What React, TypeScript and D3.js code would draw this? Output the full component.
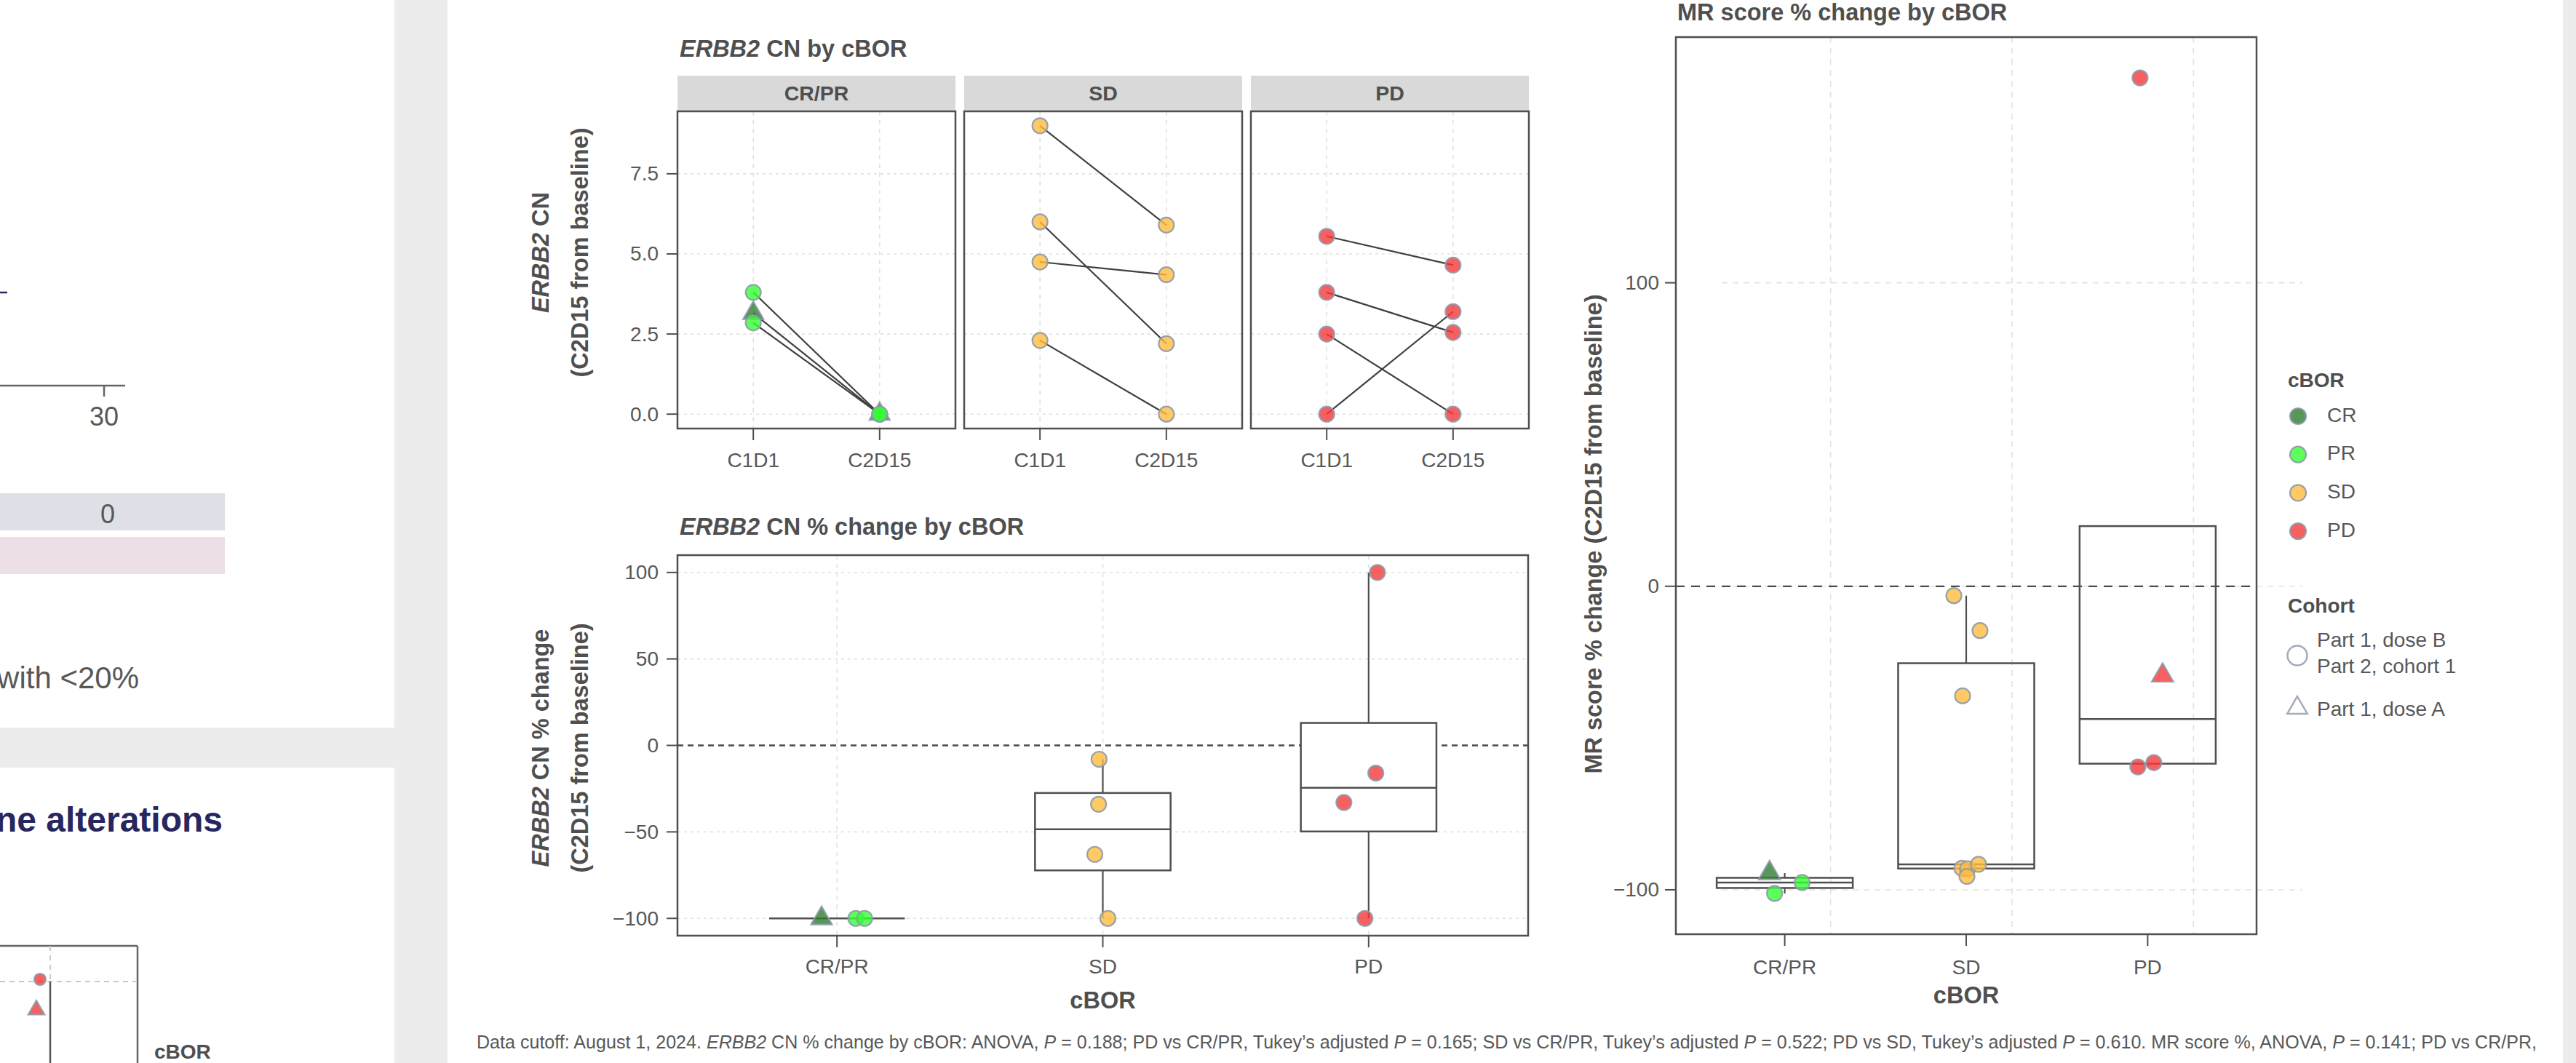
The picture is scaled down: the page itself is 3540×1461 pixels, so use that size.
import React from 'react';
import * as d3 from 'd3';

const W = 3540;
const H = 1461;
const FONT = '"Liberation Sans", Arial, Helvetica, sans-serif';
const TXT = '#585858';
const INK = '#4f4f4f';
const GRID = '#e2e2e2';
const PT_STROKE = '#8e9aab';

// ---------- categories ----------
const BOR_GROUPS = ['CR/PR', 'SD', 'PD'];
const TIMEPOINTS = ['C1D1', 'C2D15'];
const BOR_LEVELS = ['CR', 'PR', 'SD', 'PD'];
const BOR_COLORS = ['#2e7d2e', '#33ff33', '#ffbb3d', '#f43838'];
const COHORT_LABELS = [['Part 1, dose B', 'Part 2, cohort 1'], ['Part 1, dose A']];

// ---------- ERBB2 CN (paired C1D1 -> C2D15) ----------
const CN_GROUP = ['CR/PR', 'CR/PR', 'CR/PR', 'SD', 'SD', 'SD', 'SD', 'PD', 'PD', 'PD', 'PD'];
const CN_BOR = ['CR', 'PR', 'PR', 'SD', 'SD', 'SD', 'SD', 'PD', 'PD', 'PD', 'PD'];
const CN_SHAPE = ['triangle', 'circle', 'circle', 'circle', 'circle', 'circle', 'circle', 'circle', 'circle', 'circle', 'circle'];
const CN_C1D1 = [3.15, 3.8, 2.85, 9.0, 6.0, 4.75, 2.3, 5.55, 3.8, 2.5, 0];
const CN_C2D15 = [0, 0, 0, 5.9, 2.2, 4.35, 0, 4.65, 2.55, 0, 3.2];
const CN_TICKS = [0, 2.5, 5, 7.5];

// ---------- ERBB2 CN % change ----------
const PCT_GROUP = ['CR/PR', 'CR/PR', 'CR/PR', 'SD', 'SD', 'SD', 'SD', 'PD', 'PD', 'PD', 'PD'];
const PCT_BOR = ['CR', 'PR', 'PR', 'SD', 'SD', 'SD', 'SD', 'PD', 'PD', 'PD', 'PD'];
const PCT_SHAPE = ['triangle', 'circle', 'circle', 'circle', 'circle', 'circle', 'circle', 'circle', 'circle', 'circle', 'circle'];
const PCT_VALUE = [-100, -100, -100, -8, -34, -63, -100, 100, -16, -33, -100];
const PCT_JITTER = [-0.058, 0.071, 0.104, -0.014, -0.016, -0.03, 0.019, 0.033, 0.027, -0.093, -0.014];
const PCT_TICKS = [-100, -50, 0, 50, 100];

// ---------- MR score % change ----------
const MR_GROUP = ['CR/PR', 'CR/PR', 'CR/PR', 'SD', 'SD', 'SD', 'SD', 'SD', 'SD', 'SD', 'PD', 'PD', 'PD', 'PD'];
const MR_BOR = ['CR', 'PR', 'PR', 'SD', 'SD', 'SD', 'SD', 'SD', 'SD', 'SD', 'PD', 'PD', 'PD', 'PD'];
const MR_SHAPE = ['triangle', 'circle', 'circle', 'circle', 'circle', 'circle', 'circle', 'circle', 'circle', 'circle', 'circle', 'triangle', 'circle', 'circle'];
const MR_VALUE = [-94.5, -101.2, -97.6, -3.1, -14.6, -36.1, -92.9, -93.1, -91.6, -95.6, 167.5, -29.4, -59.5, -58.1];
const MR_JITTER = [-0.084, -0.056, 0.096, -0.068, 0.076, -0.02, -0.024, 0.008, 0.068, 0.004, -0.042, 0.082, -0.054, 0.034];
const MR_TICKS = [-100, 0, 100];

const FOOTNOTE_PARTS: [string, boolean][] = [
  ['Data cutoff: August 1, 2024. ', false],
  ['ERBB2', true],
  [' CN % change by cBOR: ANOVA, ', false],
  ['P', true],
  [' = 0.188; PD vs CR/PR, Tukey\u2019s adjusted ', false],
  ['P', true],
  [' = 0.165; SD vs CR/PR, Tukey\u2019s adjusted ', false],
  ['P', true],
  [' = 0.522; PD vs SD, Tukey\u2019s adjusted ', false],
  ['P', true],
  [' = 0.610. MR score %, ANOVA, ', false],
  ['P', true],
  [' = 0.141; PD vs CR/PR,', false],
];

const fmtMinus = (v: number, digits = 0) => {
  const s = digits ? Math.abs(v).toFixed(digits) : String(Math.abs(v));
  return v < 0 ? '\u2212' + s : s;
};

const colorOf = (bor: string) => BOR_COLORS[BOR_LEVELS.indexOf(bor)];

function Marker({ x, y, shape, fill, r = 10.5, triSize = 360, op = 0.8 }: any) {
  if (shape === 'triangle') {
    const p = d3.symbol(d3.symbolTriangle, triSize)();
    return (
      <path d={p as string} transform={`translate(${x},${y})`} fill={fill} fillOpacity={op}
        stroke={PT_STROKE} strokeWidth={2.2} strokeOpacity={0.9} />
    );
  }
  return <circle cx={x} cy={y} r={r} fill={fill} fillOpacity={op} stroke={PT_STROKE} strokeWidth={2.2} strokeOpacity={0.9} />;
}

function boxStats(vals: number[]) {
  const s = [...vals].sort(d3.ascending);
  const q1 = d3.quantileSorted(s, 0.25) as number;
  const med = d3.quantileSorted(s, 0.5) as number;
  const q3 = d3.quantileSorted(s, 0.75) as number;
  const iqr = q3 - q1;
  const inside = s.filter((v) => v >= q1 - 1.5 * iqr && v <= q3 + 1.5 * iqr);
  return { q1, med, q3, lo: Math.min(q1, d3.min(inside) as number), hi: Math.max(q3, d3.max(inside) as number) };
}

const expand = (vals: number[]) => {
  const [a, b] = d3.extent(vals) as [number, number];
  const pad = (b - a) * 0.05;
  return [a - pad, b + pad];
};

export default function App() {
  // ====== Facet plot (ERBB2 CN) ======
  const fTop = 153, fBottom = 589, fW = 382, fGap = 12, fLeft0 = 931;
  const cnAll = [...CN_C1D1, ...CN_C2D15];
  const yCN = d3.scaleLinear().domain(expand(cnAll)).range([fBottom, fTop]);
  const facetLeft = (i: number) => fLeft0 + i * (fW + fGap);

  // ====== Box plot (ERBB2 % change) ======
  const bL = 931, bR = 2100, bT = 763, bB = 1286;
  const yPct = d3.scaleLinear().domain(expand(PCT_VALUE)).range([bB, bT]);
  const xPct = d3.scaleLinear().domain([0.4, BOR_GROUPS.length + 0.6]).range([bL, bR]);

  // ====== MR plot ======
  const mL = 2303, mR = 3101, mT = 51, mB = 1284;
  const yMR = d3.scaleLinear().domain(expand(MR_VALUE)).range([mB, mT]);
  const xMR = d3.scaleLinear().domain([0.4, BOR_GROUPS.length + 0.6]).range([mL, mR]);
  const gridShift = 63;

  const tickFont = { fontFamily: FONT, fontSize: 28, fill: TXT };
  const boldTitle = { fontFamily: FONT, fontSize: 32.5, fontWeight: 700, fill: INK };

  return (
    <svg width={W} height={H} viewBox={`0 0 ${W} ${H}`} style={{ position: 'absolute', left: 0, top: 0, display: 'block' }}>
      {/* backgrounds */}
      <rect x={0} y={0} width={W} height={H} fill="#ececec" />
      <rect x={0} y={0} width={542} height={1000} fill="#ffffff" />
      <rect x={0} y={1055} width={542} height={H - 1055} fill="#ffffff" />
      <rect x={615} y={0} width={3522 - 615} height={H} fill="#ffffff" />

      {/* ---------- cut-off left panel ---------- */}
      <line x1={0} x2={10} y1={402} y2={402} stroke="#2b2a6b" strokeWidth={2.5} />
      <line x1={0} x2={172} y1={530} y2={530} stroke="#666" strokeWidth={2.5} />
      <line x1={143} x2={143} y1={530} y2={545} stroke="#666" strokeWidth={2.5} />
      <text x={143} y={585} textAnchor="middle" fontFamily={FONT} fontSize={36} fill={TXT}>30</text>
      <rect x={0} y={678} width={309} height={51} fill="#dedfe7" />
      <text x={148} y={719} textAnchor="middle" fontFamily={FONT} fontSize={36} fill={TXT}>0</text>
      <rect x={0} y={738} width={309} height={51} fill="#ecdfe8" />
      <text x={191} y={946} textAnchor="end" fontFamily={FONT} fontSize={42} fill={TXT}>with &lt;20%</text>
      <text x={306} y={1143} textAnchor="end" fontFamily={FONT} fontSize={48} fontWeight={700} fill="#27265f">ne alterations</text>
      <line x1={0} x2={189} y1={1300} y2={1300} stroke="#666" strokeWidth={2.5} />
      <line x1={189} x2={189} y1={1300} y2={H} stroke="#666" strokeWidth={2.5} />
      <line x1={0} x2={187} y1={1349} y2={1349} stroke="#c9c9c9" strokeWidth={2} strokeDasharray="7,6" />
      <line x1={69} x2={69} y1={1300} y2={1349} stroke="#c9c9c9" strokeWidth={2} strokeDasharray="7,6" />
      <line x1={69} x2={69} y1={1349} y2={H} stroke="#555" strokeWidth={2.5} />
      <Marker x={55} y={1346} shape="circle" r={8} fill={colorOf('PD')} />
      <Marker x={50} y={1388} shape="triangle" triSize={220} fill={colorOf('PD')} />
      <text x={212} y={1455} fontFamily={FONT} fontSize={28} fontWeight={700} fill={INK}>cBOR</text>

      {/* ---------- ERBB2 CN by cBOR (facets) ---------- */}
      <text x={934} y={78} {...boldTitle}>
        <tspan fontStyle="italic">ERBB2</tspan> CN by cBOR
      </text>
      <text transform={`translate(743,347) rotate(-90)`} textAnchor="middle" dominantBaseline="central" {...boldTitle}>
        <tspan fontStyle="italic">ERBB2</tspan> CN
      </text>
      <text transform={`translate(797,347) rotate(-90)`} textAnchor="middle" dominantBaseline="central" {...boldTitle}>
        (C2D15 from baseline)
      </text>
      {CN_TICKS.map((t) => (
        <g key={'cnt' + t}>
          <line x1={916} x2={fLeft0} y1={yCN(t)} y2={yCN(t)} stroke={INK} strokeWidth={2} />
          <text x={905} y={yCN(t)} textAnchor="end" dominantBaseline="central" {...tickFont}>{t.toFixed(1)}</text>
        </g>
      ))}
      {BOR_GROUPS.map((g, gi) => {
        const L = facetLeft(gi);
        const x = d3.scaleLinear().domain([0.4, 2.6]).range([L, L + fW]);
        const idx = CN_GROUP.map((v, i) => (v === g ? i : -1)).filter((i) => i >= 0);
        return (
          <g key={'facet' + g}>
            <rect x={L} y={104} width={fW} height={fTop - 104} fill="#d9d9d9" />
            <text x={L + fW / 2} y={138} textAnchor="middle" fontFamily={FONT} fontSize={28.5} fontWeight={700} fill={INK}>{g}</text>
            {CN_TICKS.map((t) => (
              <line key={'h' + t} x1={L} x2={L + fW} y1={yCN(t)} y2={yCN(t)} stroke={GRID} strokeWidth={1.6} strokeDasharray="4,5" />
            ))}
            {TIMEPOINTS.map((tp, ti) => (
              <g key={tp}>
                <line x1={x(ti + 1)} x2={x(ti + 1)} y1={fTop} y2={fBottom} stroke={GRID} strokeWidth={1.6} strokeDasharray="6,6" />
                <line x1={x(ti + 1)} x2={x(ti + 1)} y1={fBottom} y2={fBottom + 16} stroke={INK} strokeWidth={2} />
                <text x={x(ti + 1)} y={642} textAnchor="middle" {...tickFont}>{tp}</text>
              </g>
            ))}
            {idx.map((i) => (
              <line key={'l' + i} x1={x(1)} x2={x(2)} y1={yCN(CN_C1D1[i])} y2={yCN(CN_C2D15[i])} stroke="#404040" strokeWidth={2.2} />
            ))}
            {idx.map((i) => (
              <g key={'p' + i}>
                <Marker x={x(1)} y={yCN(CN_C1D1[i])} shape={CN_SHAPE[i]} fill={colorOf(CN_BOR[i])} triSize={340} />
                <Marker x={x(2)} y={yCN(CN_C2D15[i])} shape={CN_SHAPE[i]} fill={colorOf(CN_BOR[i])} triSize={340} />
              </g>
            ))}
            <rect x={L} y={fTop} width={fW} height={fBottom - fTop} fill="none" stroke={INK} strokeWidth={2.5} />
          </g>
        );
      })}

      {/* ---------- ERBB2 CN % change by cBOR ---------- */}
      <text x={934} y={735} {...boldTitle}>
        <tspan fontStyle="italic">ERBB2</tspan> CN % change by cBOR
      </text>
      <text transform={`translate(743,1028) rotate(-90)`} textAnchor="middle" dominantBaseline="central" {...boldTitle}>
        <tspan fontStyle="italic">ERBB2</tspan> CN % change
      </text>
      <text transform={`translate(797,1028) rotate(-90)`} textAnchor="middle" dominantBaseline="central" {...boldTitle}>
        (C2D15 from baseline)
      </text>
      {PCT_TICKS.filter((t) => t !== 0).map((t) => (
        <line key={'pg' + t} x1={bL} x2={bR} y1={yPct(t)} y2={yPct(t)} stroke={GRID} strokeWidth={1.6} strokeDasharray="4,5" />
      ))}
      {BOR_GROUPS.map((g, gi) => (
        <line key={'pv' + g} x1={xPct(gi + 1)} x2={xPct(gi + 1)} y1={bT} y2={bB} stroke={GRID} strokeWidth={1.6} strokeDasharray="6,6" />
      ))}
      <line x1={bL} x2={bR} y1={yPct(0)} y2={yPct(0)} stroke="#4a4a4a" strokeWidth={2.6} strokeDasharray="8,6" />
      {BOR_GROUPS.map((g, gi) => {
        const vals = PCT_VALUE.filter((_, i) => PCT_GROUP[i] === g);
        const s = boxStats(vals);
        const cx = xPct(gi + 1);
        const hw = xPct(0.4 + 0.255) - xPct(0.4);
        return (
          <g key={'pb' + g}>
            <line x1={cx} x2={cx} y1={yPct(s.q3)} y2={yPct(s.hi)} stroke={INK} strokeWidth={2.2} />
            <line x1={cx} x2={cx} y1={yPct(s.q1)} y2={yPct(s.lo)} stroke={INK} strokeWidth={2.2} />
            <rect x={cx - hw} y={yPct(s.q3)} width={2 * hw} height={Math.max(0, yPct(s.q1) - yPct(s.q3))} fill="#fff" stroke={INK} strokeWidth={2.5} />
            <line x1={cx - hw} x2={cx + hw} y1={yPct(s.med)} y2={yPct(s.med)} stroke={INK} strokeWidth={2.5} />
          </g>
        );
      })}
      {PCT_VALUE.map((v, i) => (
        <Marker key={'pp' + i} x={xPct(BOR_GROUPS.indexOf(PCT_GROUP[i]) + 1 + PCT_JITTER[i])} y={yPct(v)}
          shape={PCT_SHAPE[i]} fill={colorOf(PCT_BOR[i])} triSize={360} />
      ))}
      <rect x={bL} y={bT} width={bR - bL} height={bB - bT} fill="none" stroke={INK} strokeWidth={2.5} />
      {PCT_TICKS.map((t) => (
        <g key={'pt' + t}>
          <line x1={916} x2={bL} y1={yPct(t)} y2={yPct(t)} stroke={INK} strokeWidth={2} />
          <text x={905} y={yPct(t)} textAnchor="end" dominantBaseline="central" {...tickFont}>{fmtMinus(t)}</text>
        </g>
      ))}
      {BOR_GROUPS.map((g, gi) => (
        <g key={'px' + g}>
          <line x1={xPct(gi + 1)} x2={xPct(gi + 1)} y1={bB} y2={bB + 16} stroke={INK} strokeWidth={2} />
          <text x={xPct(gi + 1)} y={1338} textAnchor="middle" {...tickFont}>{g}</text>
        </g>
      ))}
      <text x={(bL + bR) / 2} y={1386} textAnchor="middle" {...boldTitle}>cBOR</text>

      {/* ---------- MR score % change by cBOR ---------- */}
      <text x={2305} y={28} {...boldTitle}>MR score % change by cBOR</text>
      <text transform={`translate(2190,734) rotate(-90)`} textAnchor="middle" dominantBaseline="central" {...boldTitle}>
        MR score % change (C2D15 from baseline)
      </text>
      {MR_TICKS.map((t) => (
        <line key={'mg' + t} x1={mL + gridShift} x2={mR + gridShift} y1={yMR(t)} y2={yMR(t)} stroke={GRID} strokeWidth={1.6} strokeDasharray="8,7" />
      ))}
      {BOR_GROUPS.map((g, gi) => (
        <line key={'mv' + g} x1={xMR(gi + 1) + gridShift} x2={xMR(gi + 1) + gridShift} y1={mT} y2={mB} stroke={GRID} strokeWidth={1.6} strokeDasharray="8,7" />
      ))}
      <line x1={mL} x2={mR} y1={yMR(0)} y2={yMR(0)} stroke="#4a4a4a" strokeWidth={2.2} strokeDasharray="12,9" />
      {BOR_GROUPS.map((g, gi) => {
        const vals = MR_VALUE.filter((_, i) => MR_GROUP[i] === g);
        const s = boxStats(vals);
        const cx = xMR(gi + 1);
        const hw = xMR(0.4 + 0.375) - xMR(0.4);
        return (
          <g key={'mb' + g}>
            <line x1={cx} x2={cx} y1={yMR(s.q3)} y2={yMR(s.hi)} stroke={INK} strokeWidth={2.2} />
            <line x1={cx} x2={cx} y1={yMR(s.q1)} y2={yMR(s.lo)} stroke={INK} strokeWidth={2.2} />
            <rect x={cx - hw} y={yMR(s.q3)} width={2 * hw} height={Math.max(0, yMR(s.q1) - yMR(s.q3))} fill="none" stroke={INK} strokeWidth={2.5} />
            <line x1={cx - hw} x2={cx + hw} y1={yMR(s.med)} y2={yMR(s.med)} stroke={INK} strokeWidth={2.5} />
          </g>
        );
      })}
      {MR_VALUE.map((v, i) => (
        <Marker key={'mp' + i} x={xMR(BOR_GROUPS.indexOf(MR_GROUP[i]) + 1 + MR_JITTER[i])} y={yMR(v)}
          shape={MR_SHAPE[i]} fill={colorOf(MR_BOR[i])} triSize={380} />
      ))}
      <rect x={mL} y={mT} width={mR - mL} height={mB - mT} fill="none" stroke={INK} strokeWidth={2.5} />
      {MR_TICKS.map((t) => (
        <g key={'mt' + t}>
          <line x1={2288} x2={mL} y1={yMR(t)} y2={yMR(t)} stroke={INK} strokeWidth={2} />
          <text x={2280} y={yMR(t)} textAnchor="end" dominantBaseline="central" {...tickFont}>{fmtMinus(t)}</text>
        </g>
      ))}
      {BOR_GROUPS.map((g, gi) => (
        <g key={'mx' + g}>
          <line x1={xMR(gi + 1)} x2={xMR(gi + 1)} y1={mB} y2={mB + 16} stroke={INK} strokeWidth={2} />
          <text x={xMR(gi + 1)} y={1339} textAnchor="middle" {...tickFont}>{g}</text>
        </g>
      ))}
      <text x={(mL + mR) / 2} y={1379} textAnchor="middle" {...boldTitle}>cBOR</text>

      {/* legend */}
      <text x={3144} y={532} fontFamily={FONT} fontSize={28} fontWeight={700} fill={INK}>cBOR</text>
      {BOR_LEVELS.map((b, i) => (
        <g key={'lg' + b}>
          <Marker x={3158} y={572 + i * 52.7} shape="circle" r={11} fill={BOR_COLORS[i]} />
          <text x={3198} y={572 + i * 52.7 - 2} dominantBaseline="central" fontFamily={FONT} fontSize={28} fill={TXT}>{b}</text>
        </g>
      ))}
      <text x={3144} y={842} fontFamily={FONT} fontSize={28} fontWeight={700} fill={INK}>Cohort</text>
      <circle cx={3157} cy={901} r={13.5} fill="none" stroke="#a3acb8" strokeWidth={2.5} />
      <text x={3184} y={889} fontFamily={FONT} fontSize={28} fill={TXT}>{COHORT_LABELS[0][0]}</text>
      <text x={3184} y={925} fontFamily={FONT} fontSize={28} fill={TXT}>{COHORT_LABELS[0][1]}</text>
      <path d={d3.symbol(d3.symbolTriangle, 330)() as string} transform="translate(3157,973)" fill="none" stroke="#a3acb8" strokeWidth={2.5} />
      <text x={3184} y={984} fontFamily={FONT} fontSize={28} fill={TXT}>{COHORT_LABELS[1][0]}</text>

      {/* footnote */}
      <text x={655} y={1441} fontFamily={FONT} fontSize={25} fill={TXT} textLength={2831} lengthAdjust="spacingAndGlyphs">
        {FOOTNOTE_PARTS.map(([s, it], i) => (
          <tspan key={'fn' + i} fontStyle={it ? 'italic' : 'normal'}>{s}</tspan>
        ))}
      </text>
    </svg>
  );
}
